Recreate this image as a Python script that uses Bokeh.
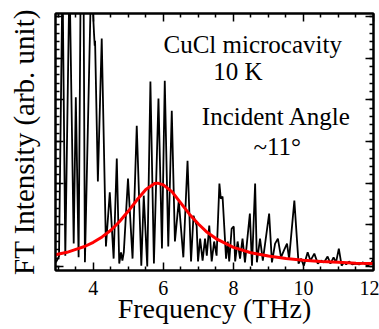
import numpy as np
from bokeh.plotting import figure
from bokeh.models import Range1d, LinearAxis, FixedTicker, ColumnDataSource
from bokeh.core.properties import value
from bokeh.embed import file_html
from bokeh.resources import INLINE

# FT spectrum (black): frequency (THz), intensity (arb. unit)
freq = [2.93, 3.02, 3.12, 3.20, 3.32, 3.44, 3.50, 3.58, 3.64, 3.72, 3.76, 3.94, 4.02, 4.04, 4.05,
        4.13, 4.24, 4.36, 4.47, 4.58, 4.67, 4.74, 4.79, 4.83, 4.87, 4.99, 5.12, 5.24, 5.37, 5.44,
        5.54, 5.63, 5.73, 5.86, 5.96, 6.04, 6.14, 6.24, 6.33, 6.44, 6.57, 6.69, 6.79, 6.86, 6.92,
        6.95, 6.99, 7.05, 7.12, 7.19, 7.24, 7.31, 7.38, 7.45, 7.52, 7.60, 7.64, 7.69, 7.79, 7.84,
        7.88, 7.95, 8.01, 8.05, 8.12, 8.19, 8.26, 8.33, 8.47, 8.53, 8.62, 8.67, 8.76, 8.84, 9.02,
        9.10, 9.19, 9.27, 9.36, 9.44, 9.53, 9.59, 9.74, 9.86, 9.93, 10.01, 10.12, 10.20, 10.31,
        10.41, 10.50, 10.59, 10.69, 10.77, 10.86, 10.93, 11.01, 11.09, 11.16, 11.22, 11.30, 11.39,
        11.50, 11.59, 11.70, 11.82, 11.93, 12.00]
intensity = [0.10, 0.24, 7.0, 0.26, 7.0, 0.55, 4.06, 0.22, 7.0, 7.0, 0.10, 7.0, 5.59, 5.30, 5.42,
             2.04, 5.47, 0.48, 1.78, 0.19, 2.59, 0.07, 0.34, 0.14, 0.34, 2.11, 0.19, 3.38, 0.02, 1.70,
             0.00, 4.44, 0.07, 4.03, 0.43, 4.46, 0.48, 3.74, 0.60, 1.58, 0.22, 2.54, 0.12, 1.22, 1.06,
             0.98, 0.12, 0.67, 0.14, 0.67, 0.26, 0.98, 0.12, 0.60, 0.26, 1.99, 1.63, 1.68, 0.19, 0.60,
             0.12, 0.91, 0.96, 0.12, 0.60, 0.19, 0.67, 0.10, 1.27, 0.02, 1.99, 0.10, 0.67, 0.14, 1.27,
             0.10, 0.55, 0.67, 0.22, 0.38, 0.55, 0.19, 1.58, 0.07, 0.19, 0.02, 0.34, 0.14, 0.31,
             0.07, 0.14, 0.10, 0.24, 0.07, 0.22, 0.10, 0.43, 0.02, 0.10, 0.05, 0.12, 0.05,
             0.07, 0.05, 0.10, 0.02, 0.07, 0.19]

# Fitted curve (red)
fit_freq = [2.92, 3.25, 3.5, 3.75, 4.0, 4.25, 4.5, 4.75, 5.0, 5.25, 5.5, 5.75, 5.84, 6.0, 6.25,
            6.5, 6.75, 7.0, 7.25, 7.5, 8.0, 8.5, 9.0, 9.5, 10.0, 10.5, 11.0, 11.5, 12.0]
fit_intensity = [0.28, 0.34, 0.41, 0.48, 0.58, 0.71, 0.87, 1.08, 1.33, 1.60, 1.85, 1.99, 2.00, 1.96,
                 1.79, 1.52, 1.25, 1.02, 0.82, 0.67, 0.46, 0.33, 0.25, 0.19, 0.15, 0.12, 0.10, 0.08, 0.07]

x_major_ticks = [4, 6, 8, 10, 12]
x_minor_ticks = [3, 3.5, 4.5, 5, 5.5, 6.5, 7, 7.5, 8.5, 9, 9.5, 10.5, 11, 11.5]
y_major_ticks = [0, 1, 2, 3, 4, 5, 6]
y_minor_ticks = [round(0.2 * i, 1) for i in range(0, 31)]

notes = ["CuCl microcavity", "10 K", "Incident Angle", "~11\u00b0"]
note_x = [8.55, 8.13, 9.23, 9.25]
note_y = [5.33, 4.68, 3.60, 2.88]

FONT = "'Liberation Serif', 'Times New Roman', serif"

p = figure(width=379, height=329, output_backend="svg", toolbar_location=None,
           x_range=Range1d(2.92, 12.0), y_range=Range1d(-0.096, 6.072),
           min_border_left=55, min_border_right=6, min_border_top=13, min_border_bottom=59,
           background_fill_color="white", border_fill_color="white")
p.xgrid.visible = False
p.ygrid.visible = False
p.outline_line_color = "black"
p.outline_line_width = 2

xt = FixedTicker(ticks=x_major_ticks, minor_ticks=x_minor_ticks)
yt = FixedTicker(ticks=y_major_ticks, minor_ticks=y_minor_ticks)


def style_axis(ax, ticker, show_labels):
    ax.ticker = ticker
    ax.axis_line_color = "black"
    ax.axis_line_width = 2
    ax.major_tick_in = 8
    ax.major_tick_out = 0
    ax.minor_tick_in = 4
    ax.minor_tick_out = 0
    ax.major_tick_line_width = 1.5
    ax.minor_tick_line_width = 1.5
    ax.major_tick_line_color = "black"
    ax.minor_tick_line_color = "black"
    if show_labels:
        ax.major_label_text_font = FONT
        ax.major_label_text_font_size = "20px"
        ax.major_label_text_color = "black"
        ax.major_label_standoff = 10
    else:
        ax.major_label_text_color = None
        ax.major_label_text_font_size = "0px"
        ax.major_label_standoff = 0


xa = p.xaxis[0]
style_axis(xa, xt, True)
xa.axis_label = "Frequency (THz)"
xa.axis_label_text_font = FONT
xa.axis_label_text_font_size = "28px"
xa.axis_label_text_font_style = "normal"
xa.axis_label_text_color = "black"
xa.axis_label_standoff = -5

ya = p.yaxis[0]
style_axis(ya, yt, False)
ya.axis_label = "FT Intensity (arb. unit)"
ya.axis_label_text_font = FONT
ya.axis_label_text_font_size = "29px"
ya.axis_label_text_font_style = "normal"
ya.axis_label_text_color = "black"
ya.axis_label_standoff = 16

top = LinearAxis()
style_axis(top, xt, False)
p.add_layout(top, "above")
right = LinearAxis()
style_axis(right, yt, False)
p.add_layout(right, "right")

p.line(freq, intensity, line_color="black", line_width=1.8)
p.line(fit_freq, fit_intensity, line_color="#ff0000", line_width=3)

notes_src = ColumnDataSource(data=dict(x=note_x, y=note_y, text=notes))
p.text(x="x", y="y", text="text", source=notes_src, text_font=value(FONT),
       text_font_size=value("25px"), text_align="center", text_baseline="alphabetic",
       text_color="black")

open("out.html", "w").write(file_html(p, INLINE))
